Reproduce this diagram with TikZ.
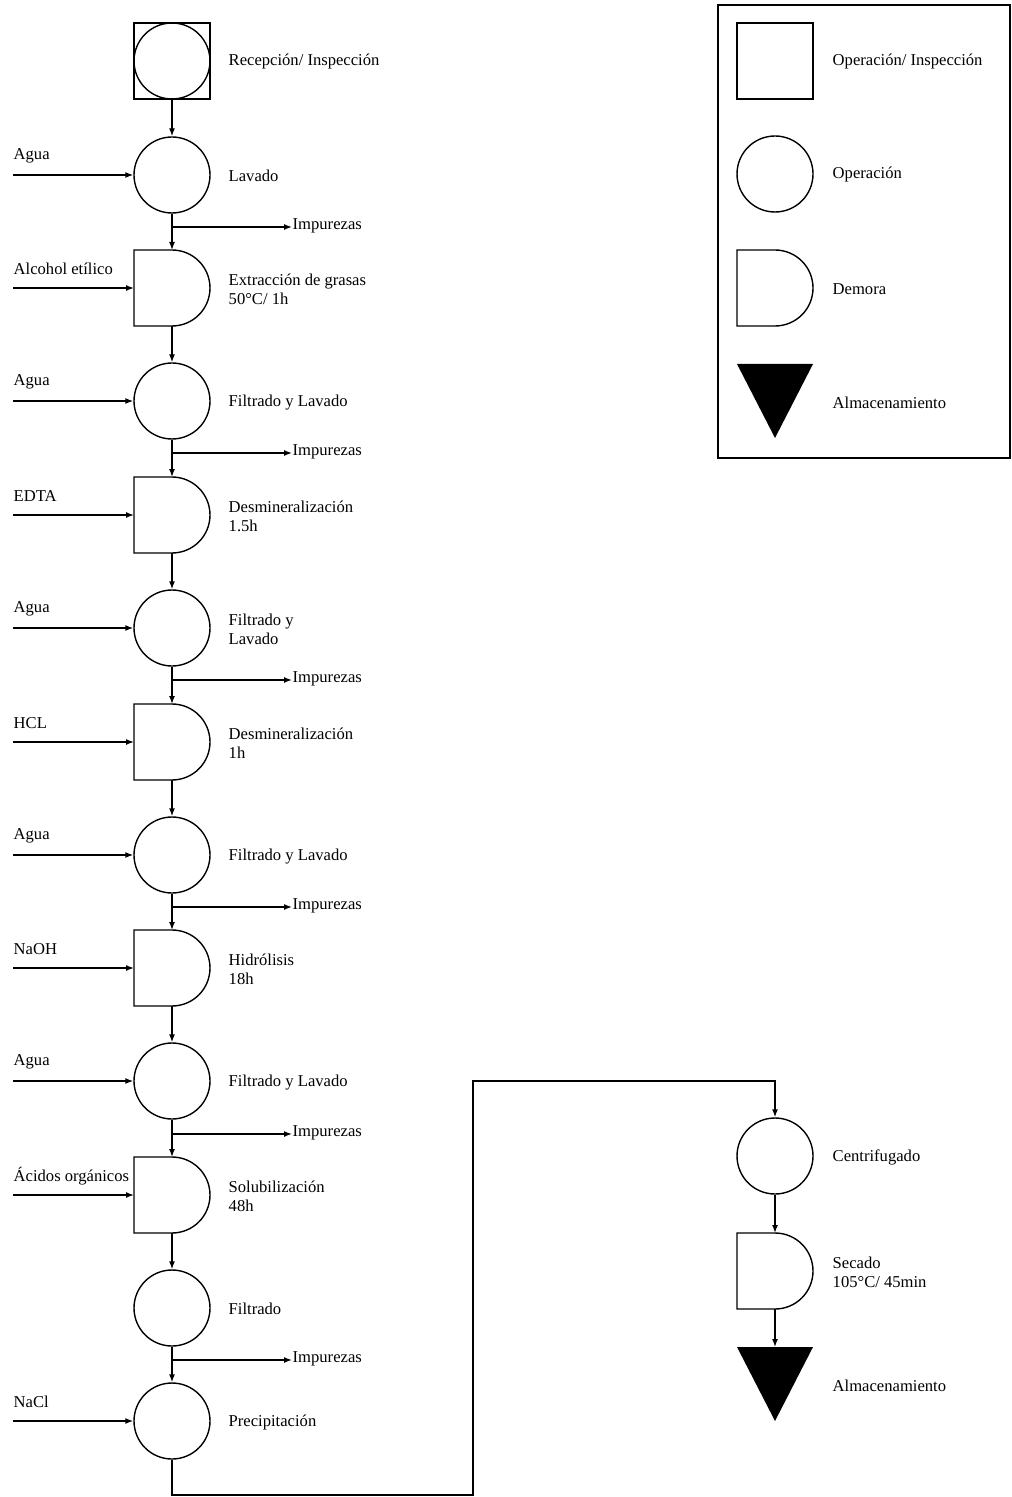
\documentclass[tikz,border=0pt]{standalone}
\usepackage{fontspec}
\setmainfont{Liberation Serif}
\usetikzlibrary{arrows.meta}
\newcommand\fs{\fontsize{8.3}{9.5}\selectfont}
\newcommand\dshape[1]{\draw (#1.north west) -- (#1.north) arc[start angle=90,end angle=-90,radius=19pt] -- (#1.south west) -- cycle;}
\begin{document}
\begin{tikzpicture}[x=0.5pt,y=-0.5pt,
  >={Latex[length=4pt,width=3pt]}, line width=0.7pt,
  op/.style={circle,draw,minimum size=38pt,inner sep=0pt},
  dbox/.style={rectangle,draw=none,minimum size=38pt,inner sep=0pt,outer sep=0pt},
  sqbox/.style={rectangle,draw,minimum size=38pt,inner sep=0pt},
  tri/.style={rectangle,draw=none,minimum width=38pt,minimum height=37pt,inner sep=0pt,outer sep=0pt},
  lbl/.style={anchor=west,font=\fs,align=left,inner sep=0pt,yshift=-0.6pt}]
\fill[white] (0,0) rectangle (1011,1497);
\useasboundingbox (0,0) rectangle (1011,1497);

% ---- main column ----
\node[sqbox] (rec) at (172,61) {};
\node[op] (recc) at (172,61) {};
\node[lbl] (recl) at (228,60) {Recepción/ Inspección};

\node[op] (lav) at (172,175) {};
\node[lbl] (lavl) at (228,175) {Lavado};
\node[dbox] (ext) at (172,288) {}; \dshape{ext}
\node[lbl] (extl) at (228,288) {Extracción de grasas\\50°C/ 1h};
\node[op] (fl1) at (172,401) {};
\node[lbl] (fl1l) at (228,401) {Filtrado y Lavado};
\node[dbox] (dm1) at (172,515) {}; \dshape{dm1}
\node[lbl] (dm1l) at (228,515) {Desmineralización\\1.5h};
\node[op] (fl2) at (172,628) {};
\node[lbl] (fl2l) at (228,628) {Filtrado y\\Lavado};
\node[dbox] (dm2) at (172,742) {}; \dshape{dm2}
\node[lbl] (dm2l) at (228,742) {Desmineralización\\1h};
\node[op] (fl3) at (172,855) {};
\node[lbl] (fl3l) at (228,855) {Filtrado y Lavado};
\node[dbox] (hid) at (172,968) {}; \dshape{hid}
\node[lbl] (hidl) at (228,968) {Hidrólisis\\18h};
\node[op] (fl4) at (172,1081) {};
\node[lbl] (fl4l) at (228,1081) {Filtrado y Lavado};
\node[dbox] (sol) at (172,1195) {}; \dshape{sol}
\node[lbl] (soll) at (228,1195) {Solubilización\\48h};
\node[op] (fil) at (172,1308) {};
\node[lbl] (fill) at (228,1308) {Filtrado};
\node[op] (pre) at (172,1421) {};
\node[lbl] (prel) at (228,1421) {Precipitación};

% vertical connectors
\foreach \a/\b in {rec/lav,lav/ext,ext/fl1,fl1/dm1,dm1/fl2,fl2/dm2,dm2/fl3,fl3/hid,hid/fl4,fl4/sol,sol/fil,fil/pre}
  \draw[->] (\a.south) -- (\b.north);

% inputs
\foreach \n/\t/\y in {lav/Agua/175,ext/Alcohol etílico/288,fl1/Agua/401,dm1/EDTA/515,fl2/Agua/628,dm2/HCL/742,fl3/Agua/855,hid/NaOH/968,fl4/Agua/1081,sol/Ácidos orgánicos/1195,pre/NaCl/1421}{
  \node[lbl] (in\n) at (13,\y-20) {\t};
  \coordinate (s\n) at (13,\y);
  \draw[->] (s\n) -- (\n.west);
}

% impurities
\foreach \n/\y in {lav/227,fl1/453,fl2/680,fl3/907,fl4/1134,fil/1360}{
  \coordinate (j\n) at (172,\y);
  \node[lbl,yshift=1pt] (imp\n) at (292,\y) {Impurezas};
  \draw[->] (j\n) -- (292,\y);
}

% ---- right column ----
\node[op] (cen) at (775,1156) {};
\node[lbl] (cenl) at (832,1156) {Centrifugado};
\node[dbox] (sec) at (775,1271) {}; \dshape{sec}
\node[lbl] (secl) at (832,1271) {Secado\\105°C/ 45min};
\node[tri] (alm) at (775,1384) {};
\fill (alm.north west) -- (alm.north east) -- (alm.south) -- cycle;
\node[lbl] (alml) at (832,1385) {Almacenamiento};

\coordinate (b1) at (172,1495);
\coordinate (b2) at (473,1495);
\coordinate (b3) at (473,1081);
\draw[->] (pre.south) -- (b1) -- (b2) -- (b3) -| (cen.north);
\draw[->] (cen.south) -- (sec.north);
\draw[->] (sec.south) -- (alm.north);

% ---- legend ----
\node[rectangle,draw,inner sep=0pt,minimum width=146pt,minimum height=226.5pt] (leg) at (864,231.5) {};
\node[sqbox] (lsq) at (775,61) {};
\node[lbl] (lsql) at (832,60) {Operación/ Inspección};
\node[op] (lci) at (775,174) {};
\node[lbl] (lcil) at (832,173) {Operación};
\node[dbox] (ld) at (775,288) {}; \dshape{ld}
\node[lbl] (ldl) at (832,288) {Demora};
\node[tri] (lt) at (775,401) {};
\fill (lt.north west) -- (lt.north east) -- (lt.south) -- cycle;
\node[lbl] (ltl) at (832,402) {Almacenamiento};
\end{tikzpicture}
\end{document}
